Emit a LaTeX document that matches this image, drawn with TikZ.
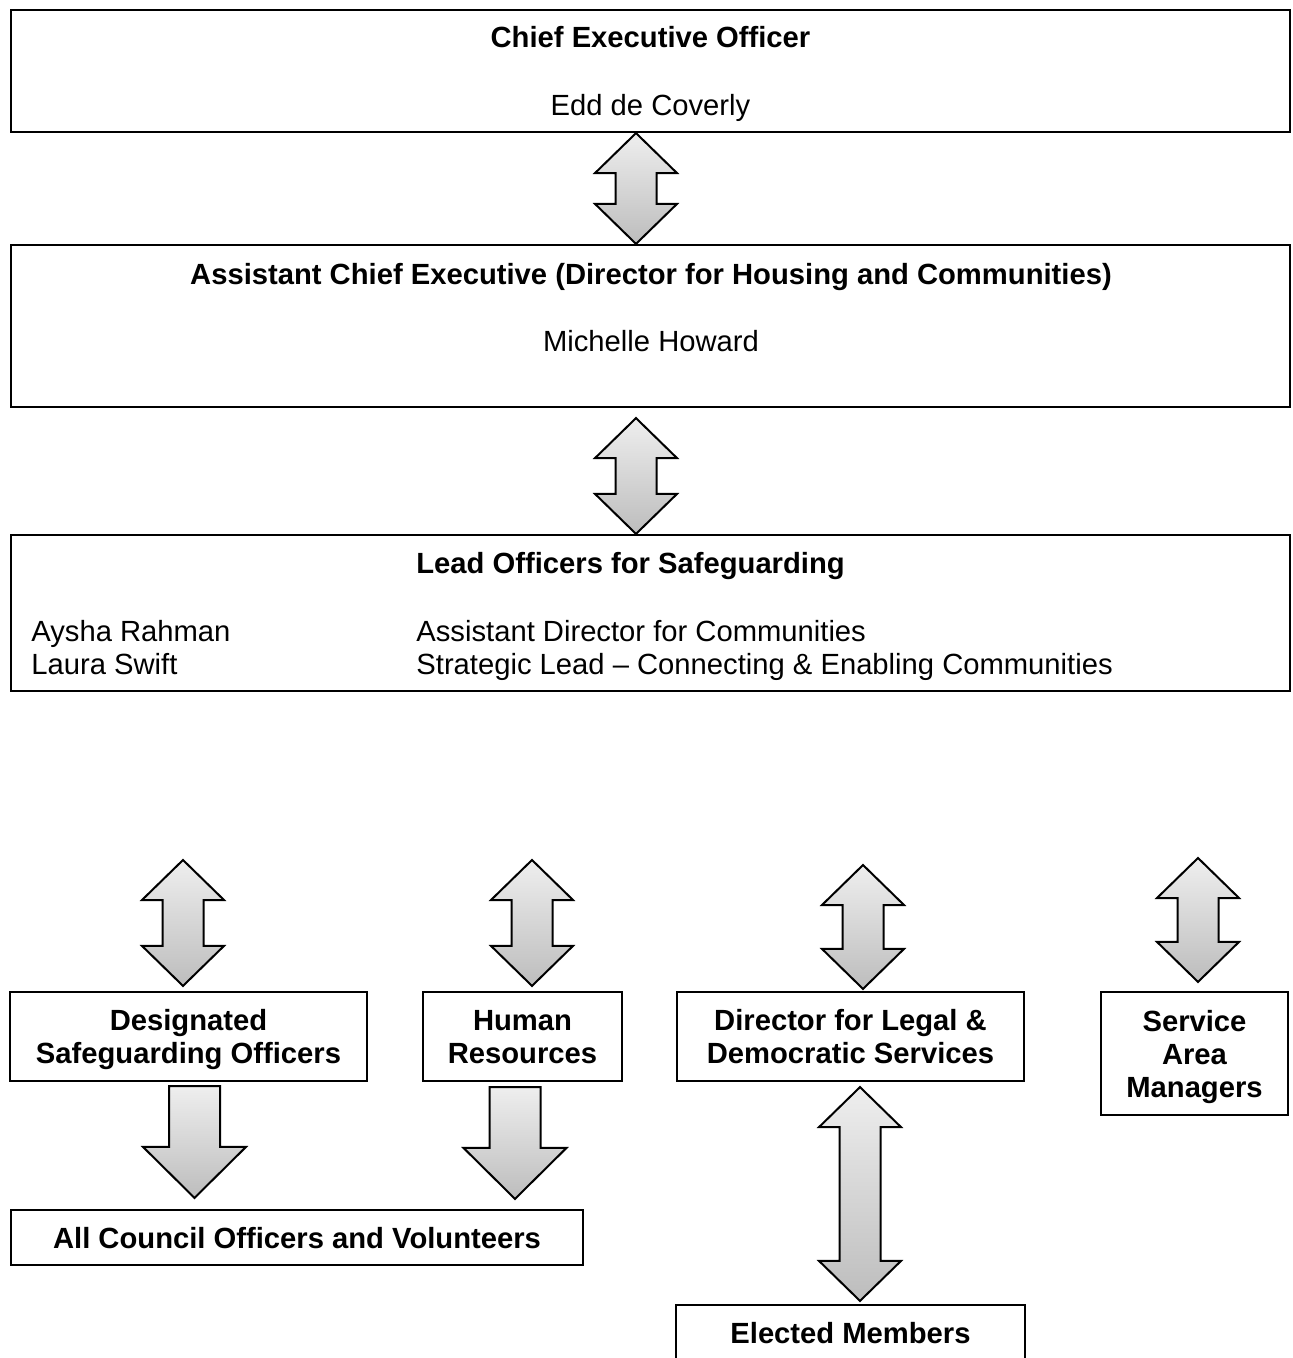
\documentclass[tikz,border=0pt]{standalone}
\usepackage{fontspec}
\setmainfont{Liberation Sans}
\usetikzlibrary{calc}
\newcommand\dfont{\fontsize{14.6pt}{16.5pt}\selectfont}
% double block arrow between two points (tip coordinates)
\newcommand\dblpath[2]{(#1) -- ($(#1)+(41,40)$) -- ($(#1)+(20.5,40)$) -- ($(#2)+(20.5,-40)$) -- ($(#2)+(41,-40)$) -- (#2) -- ($(#2)+(-41,-40)$) -- ($(#2)+(-20.5,-40)$) -- ($(#1)+(-20.5,40)$) -- ($(#1)+(-41,40)$) -- cycle}
% single down block arrow: #1 = middle of shaft top, #2 = tip
\newcommand\downpath[2]{($(#1)+(-25.5,0)$) -- ($(#1)+(25.5,0)$) -- ($(#2)+(25.5,-51)$) -- ($(#2)+(51.5,-51)$) -- (#2) -- ($(#2)+(-51.5,-51)$) -- ($(#2)+(-25.5,-51)$) -- cycle}
\tikzset{
  boxnode/.style={draw=black, line width=1.1pt, inner sep=0pt, align=center,
    font=\dfont\bfseries, text depth=0pt},
  txt/.style={inner sep=0pt, font=\dfont},
  txtb/.style={inner sep=0pt, font=\dfont\bfseries},
  blockarrow/.style={draw=black, line width=1pt, line join=miter,
    top color=gray!13, bottom color=gray!52},
  arrowshadow/.style={fill=black!30, opacity=0.45, draw=none, xshift=1.2pt, yshift=-1.6pt},
}
\begin{document}
\begin{tikzpicture}[x=0.5pt, y=-0.5pt]
\path[use as bounding box, clip] (0,0) rectangle (1292,1358);
\fill[white] (0,0) rectangle (1292,1358);

% ---------- boxes ----------
\node[boxnode, minimum width=639.5pt, minimum height=61pt] (ceo) at (650.5,71) {};
\node[boxnode, minimum width=639.5pt, minimum height=81pt] (ace) at (650.5,326) {};
\node[boxnode, minimum width=639.5pt, minimum height=78pt] (lead) at (650.5,613) {};

\node[boxnode, minimum width=178.5pt, minimum height=44.5pt] (ds) at (188.5,1036.5) {Designated\\Safeguarding Officers};
\node[boxnode, minimum width=99.5pt, minimum height=44.5pt] (hr) at (522.5,1036.5) {Human\\Resources};
\node[boxnode, minimum width=173.5pt, minimum height=44.5pt] (dir) at (850.5,1036.5) {Director for Legal \&\\Democratic Services};
\node[boxnode, minimum width=93.5pt, minimum height=61.5pt] (sam) at (1194.5,1053.5) {Service\\Area\\Managers};
\node[boxnode, minimum width=286pt, minimum height=27.5pt] (all) at (297,1237.5) {All Council Officers and Volunteers};
\node[boxnode, minimum width=174.5pt, minimum height=28pt] (el) at (850.5,1333) {Elected Members};

% ---------- texts in the top boxes ----------
\node[txtb, anchor=base] (ceoT) at (650.5,48) {Chief Executive Officer};
\node[txt, anchor=base] (ceoN) at (650.5,116) {Edd de Coverly};
\node[txtb, anchor=base] (aceT) at (651,285) {Assistant Chief Executive (Director for Housing and Communities)};
\node[txt, anchor=base] (aceN) at (651,351) {Michelle Howard};
\node[txtb, anchor=base west] (leadT) at (416,573) {Lead Officers for Safeguarding};
\node[txt, anchor=base west] (n1) at (31,641) {Aysha Rahman};
\node[txt, anchor=base west] (r1) at (416,641) {Assistant Director for Communities};
\node[txt, anchor=base west] (n2) at (31,674) {Laura Swift};
\node[txt, anchor=base west] (r2) at (416,674) {Strategic Lead – Connecting \& Enabling Communities};

% ---------- arrow end points ----------
\coordinate (ax) at (636,0);
\coordinate (t1) at (ceo.south -| ax);
\coordinate (b1) at (ace.north -| ax);
\coordinate (t2) at ($(ace.south -| ax)+(0,10)$);
\coordinate (b2) at (lead.north -| ax);

\coordinate (tds) at (183,860);
\coordinate (bds) at ($(ds.north -| tds)+(0,-5)$);
\coordinate (thr) at (532,860);
\coordinate (bhr) at ($(hr.north -| thr)+(0,-5)$);
\coordinate (tdir) at (863,865);
\coordinate (bdir) at ($(dir.north -| tdir)+(0,-2)$);
\coordinate (tsam) at (1198,858);
\coordinate (bsam) at ($(sam.north -| tsam)+(0,-9)$);

\coordinate (sds) at ($(ds.south)+(6,4)$);
\coordinate (pds) at ($(all.north -| sds)+(0,-11)$);
\coordinate (shr) at ($(hr.south)+(-7.5,5)$);
\coordinate (phr) at ($(all.north -| shr)+(0,-10)$);
\coordinate (tel) at ($(dir.south)+(9.5,5)$);
\coordinate (bel) at ($(el.north -| tel)+(0,-3)$);

% ---------- shadows ----------
\fill[arrowshadow] \dblpath{t1}{b1};
\fill[arrowshadow] \dblpath{t2}{b2};
\fill[arrowshadow] \dblpath{tds}{bds};
\fill[arrowshadow] \dblpath{thr}{bhr};
\fill[arrowshadow] \dblpath{tdir}{bdir};
\fill[arrowshadow] \dblpath{tsam}{bsam};
\fill[arrowshadow] \dblpath{tel}{bel};
\fill[arrowshadow] \downpath{sds}{pds};
\fill[arrowshadow] \downpath{shr}{phr};

% ---------- block arrows ----------
\draw[blockarrow] \dblpath{t1}{b1};
\draw[blockarrow] \dblpath{t2}{b2};
\draw[blockarrow] \dblpath{tds}{bds};
\draw[blockarrow] \dblpath{thr}{bhr};
\draw[blockarrow] \dblpath{tdir}{bdir};
\draw[blockarrow] \dblpath{tsam}{bsam};
\draw[blockarrow] \dblpath{tel}{bel};
\draw[blockarrow] \downpath{sds}{pds};
\draw[blockarrow] \downpath{shr}{phr};
\end{tikzpicture}
\end{document}
